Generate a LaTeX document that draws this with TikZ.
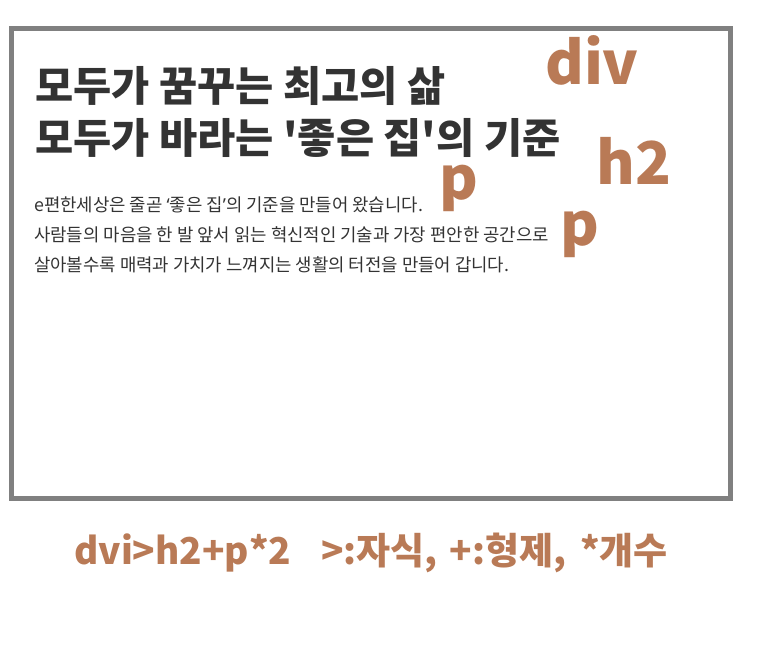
\documentclass[tikz,border=0pt]{standalone}
\usepackage{fontspec}
\setmainfont{Noto Sans CJK KR}[Ligatures=TeXOff]
\newfontfamily\latinq{Noto Sans}
\definecolor{tag}{HTML}{B97A56}
\definecolor{ink}{HTML}{333333}
\definecolor{frame}{HTML}{808080}
\tikzset{
  title/.style={anchor=base west, inner sep=0pt, text=ink, font=\bfseries\fontsize{41.5}{48}\selectfont},
  para/.style={anchor=base west, inner sep=0pt, text=ink, font=\fontsize{17.8}{21}\selectfont},
  tagtext/.style={anchor=base west, inner sep=0pt, text=tag, font=\bfseries\fontsize{59}{66}\selectfont},
  note/.style={anchor=base west, inner sep=0pt, text=tag, font=\bfseries\fontsize{37}{42}\selectfont},
}
\begin{document}
\begin{tikzpicture}[x=1pt,y=-1pt]
\useasboundingbox (0,0) rectangle (776,657);
\draw[frame, line width=5pt] (11.5,28.5) rectangle (730.5,498.5);
\node[title] (t1) at (35,101) {모두가 꿈꾸는 최고의 삶};
\node[title] (t2) at (35,153) {모두가 바라는 '좋은 집'의 기준};
\node[para] (p1) at (34,211) {e편한세상은 줄곧 {\latinq ‘}좋은 집{\latinq ’}의 기준을 만들어 왔습니다.};
\node[para] (p2) at (34,241) {사람들의 마음을 한 발 앞서 읽는 혁신적인 기술과 가장 편안한 공간으로};
\node[para] (p3) at (34,271) {살아볼수록 매력과 가치가 느껴지는 생활의 터전을 만들어 갑니다.};
\node[tagtext] (div) at (545,84) {div};
\node[tagtext] (h2) at (596,184) {h2};
\node[tagtext] (pa) at (439,199) {p};
\node[tagtext] (pb) at (560,245) {p};
\node[note] (n) at (74,564) {dvi>h2+p*2\hspace{30pt}>:자식,\hspace{12pt}+:형제,\hspace{14pt}*개수};
\end{tikzpicture}
\end{document}
